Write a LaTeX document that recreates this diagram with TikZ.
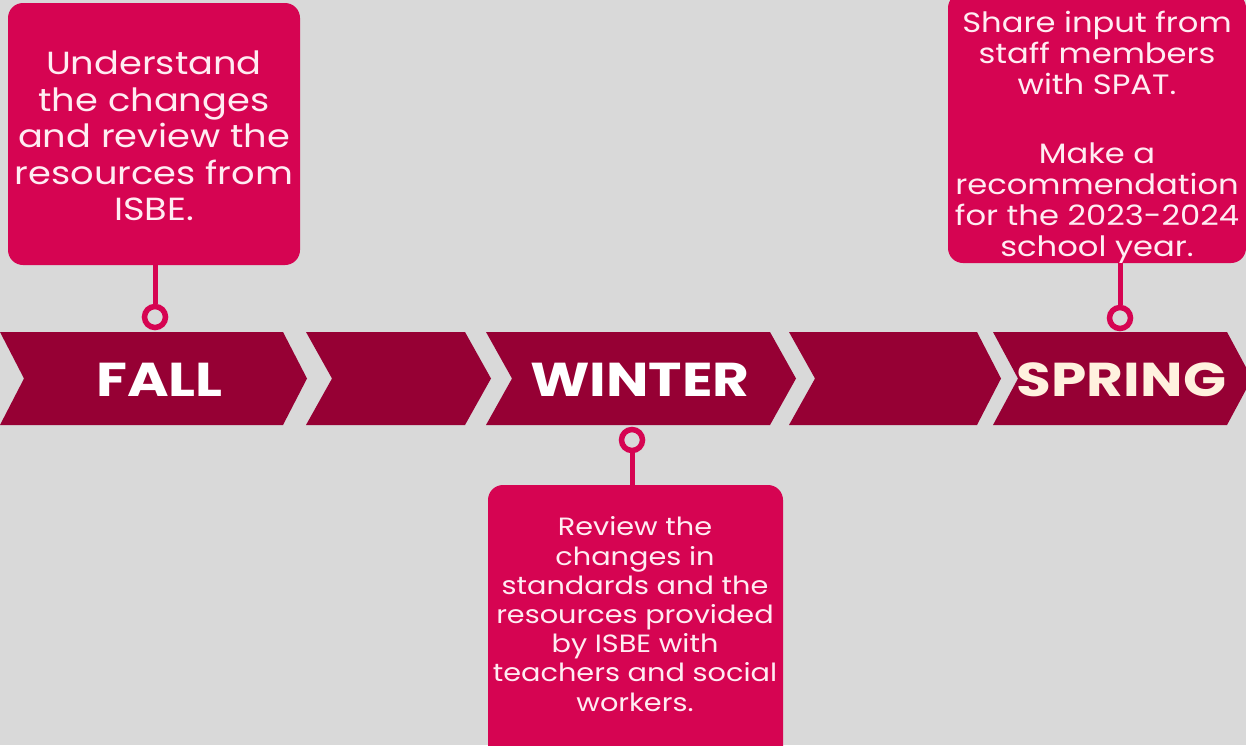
\documentclass[tikz,border=0pt]{standalone}
\usepackage{fontspec}
\setmainfont{Poppins}[FakeStretch=1.15]
\newfontfamily\headfont{Poppins}[FakeStretch=1.19]
\definecolor{bgcol}{RGB}{217,217,217}
\definecolor{band}{RGB}{150,0,52}
\definecolor{card}{RGB}{214,4,82}
\definecolor{cardtext}{RGB}{255,236,242}
\definecolor{cream}{RGB}{255,241,222}
\begin{document}
\begin{tikzpicture}[x=1pt,y=-1pt,
  chev/.style={fill=band},
  cardbox/.style={fill=card, rounded corners=15pt, draw=none},
  cardtxt/.style={text=cardtext, align=center, inner sep=0pt},
  season/.style={text=white, inner sep=0pt, font=\headfont\bfseries\fontsize{47.5}{50}\selectfont},
  ring/.style={circle, draw=card, line width=5.5pt, minimum size=21pt, inner sep=0pt},
  stem/.style={draw=card, line width=5pt}]
  \path[use as bounding box, fill=bgcol] (0,0) rectangle (1246,745);

  % timeline band of five chevrons
  \fill[chev] (0,332) -- (283,332) -- (307,378.5) -- (283,425) -- (0,425) -- (24,378.5) -- cycle;
  \fill[chev] (306,332) -- (465,332) -- (491,378.5) -- (465,425) -- (306,425) -- (332,378.5) -- cycle;
  \fill[chev] (486,332) -- (770,332) -- (796,378.5) -- (770,425) -- (486,425) -- (512,378.5) -- cycle;
  \fill[chev] (789,332) -- (977,332) -- (1001,378.5) -- (977,425) -- (789,425) -- (815,378.5) -- cycle;
  \fill[chev] (993,332) -- (1227,332) -- (1252,378.5) -- (1227,425) -- (993,425) -- (1018,378.5) -- cycle;

  \node[season] (fall) at (159.5,380) {FALL};
  \node[season] (winter) at (640,380) {WINTER};
  \node[season, text=cream] (spring) at (1121.5,380) {SPRING};

  % cards
  \node[cardbox, minimum width=292pt, minimum height=262pt] (fallcard) at (154,134) {};
  \node[cardbox, minimum width=295pt, minimum height=280pt] (wintercard) at (635.5,625) {};
  \node[cardbox, minimum width=298pt, minimum height=270pt] (springcard) at (1097,128) {};

  \node[cardtxt, font=\fontsize{32}{36.5}\selectfont] (falltxt) at (154,136)
    {Understand\\the changes\\and review the\\resources from\\ISBE.};
  \node[cardtxt, font=\fontsize{25}{29.2}\selectfont] (wintertxt) at (635,614)
    {Review the\\changes in\\standards and the\\resources provided\\by ISBE with\\teachers and social\\workers.};
  \node[cardtxt, font=\fontsize{28}{31}\selectfont] (springtxt) at (1097,137)
    {Share input from\\staff members\\with SPAT.\\[38pt]Make a\\recommendation\\for the 2023-2024\\school year.};

  % markers joining cards to the band
  \node[ring] (fallring) at (155,317) {};
  \node[ring] (winterring) at (632,440) {};
  \node[ring] (springring) at (1120,318) {};

  \draw[stem] (fallring.north) -- (fallring.north |- fallcard.south);
  \draw[stem] (winterring.south) -- (winterring.south |- wintercard.north);
  \draw[stem] (springring.north) -- (springring.north |- springcard.south);
\end{tikzpicture}
\end{document}
